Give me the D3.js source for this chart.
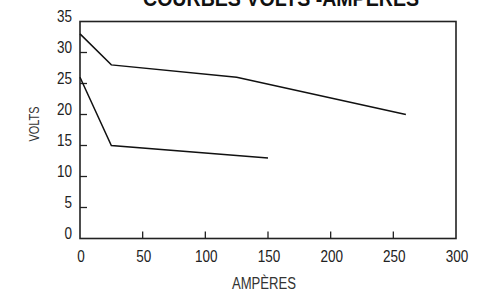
<!DOCTYPE html>
<html>
<head>
<meta charset="utf-8">
<script src="https://cdn.jsdelivr.net/npm/d3@7"></script>
<style>
  body { margin: 0; background: #fff; }
  text { font-family: "Liberation Sans", Arial, sans-serif; fill: #222; }
</style>
</head>
<body>
<div id="chart"></div>
<script>
// Chart data
var upperAmps = [0, 25, 125, 260];
var upperVolts = [33, 28, 26, 20];
var lowerAmps = [0, 25, 150];
var lowerVolts = [26, 15, 13];
var xTicks = [0, 50, 100, 150, 200, 250, 300];
var yTicks = [0, 5, 10, 15, 20, 25, 30, 35];

// Dimensions
var width = 484;
var height = 291;
var margin = {top: 21.5, right: 28, bottom: 52.5, left: 80};
var plotW = width - margin.left - margin.right;
var plotH = height - margin.top - margin.bottom;

// Horizontal squeeze to mimic the condensed typeface
var squeeze = 0.82;

var x = d3.scaleLinear().domain([0, 300]).range([0, plotW]);
var y = d3.scaleLinear().domain([0, 35]).range([plotH, 0]);

var svg = d3.select("#chart")
    .append("svg")
    .attr("width", width)
    .attr("height", height);

var g = svg.append("g")
    .attr("transform", "translate(" + margin.left + "," + margin.top + ")");

// Inner ticks (no end ticks, the frame covers them)
g.selectAll(".ytick")
    .data(yTicks.slice(1, -1))
    .enter()
    .append("line")
    .attr("x1", 0).attr("x2", 7)
    .attr("y1", function(d) { return y(d); })
    .attr("y2", function(d) { return y(d); })
    .attr("stroke", "#222").attr("stroke-width", 1.3);

g.selectAll(".xtick")
    .data(xTicks.slice(1, -1))
    .enter()
    .append("line")
    .attr("x1", function(d) { return x(d); })
    .attr("x2", function(d) { return x(d); })
    .attr("y1", plotH).attr("y2", plotH - 7)
    .attr("stroke", "#222").attr("stroke-width", 1.3);

// Frame
g.append("rect")
    .attr("width", plotW)
    .attr("height", plotH)
    .attr("fill", "none")
    .attr("stroke", "#222")
    .attr("stroke-width", 1.6);

// Tick labels
g.selectAll(".ylab")
    .data(yTicks)
    .enter()
    .append("text")
    .attr("transform", function(d) {
        return "translate(-8," + y(d) + ") scale(" + squeeze + ",1)";
    })
    .attr("text-anchor", "end")
    .style("font-size", "16.5px")
    .text(function(d) { return d; });

g.selectAll(".xlab")
    .data(xTicks)
    .enter()
    .append("text")
    .attr("transform", function(d) {
        return "translate(" + (x(d) + 1) + "," + (plotH + 23.5) + ") scale(" + squeeze + ",1)";
    })
    .attr("text-anchor", "middle")
    .style("font-size", "16.5px")
    .text(function(d) { return d; });

// Lines
var line = d3.line()
    .x(function(d) { return x(d[0]); })
    .y(function(d) { return y(d[1]); });

[d3.zip(upperAmps, upperVolts), d3.zip(lowerAmps, lowerVolts)].forEach(function(pts) {
    g.append("path")
        .datum(pts)
        .attr("d", line)
        .attr("fill", "none")
        .attr("stroke", "#111")
        .attr("stroke-width", 1.5);
});

// Axis titles
svg.append("text")
    .attr("transform", "translate(264,289) scale(" + squeeze + ",1)")
    .attr("text-anchor", "middle")
    .style("font-size", "16px")
    .style("fill", "#333")
    .text("AMPÈRES");

svg.append("text")
    .attr("transform", "translate(38.5,124) rotate(-90)")
    .attr("text-anchor", "middle")
    .attr("textLength", 35)
    .attr("lengthAdjust", "spacingAndGlyphs")
    .style("font-size", "15px")
    .style("fill", "#333")
    .text("VOLTS");

// Title, cut off at the top edge as in the source
svg.append("text")
    .attr("x", 281)
    .attr("y", 6)
    .attr("text-anchor", "middle")
    .attr("textLength", 276)
    .attr("lengthAdjust", "spacingAndGlyphs")
    .style("font-size", "22px")
    .style("font-weight", "bold")
    .style("fill", "#111")
    .text("COURBES VOLTS -AMPÈRES");
</script>
</body>
</html>
